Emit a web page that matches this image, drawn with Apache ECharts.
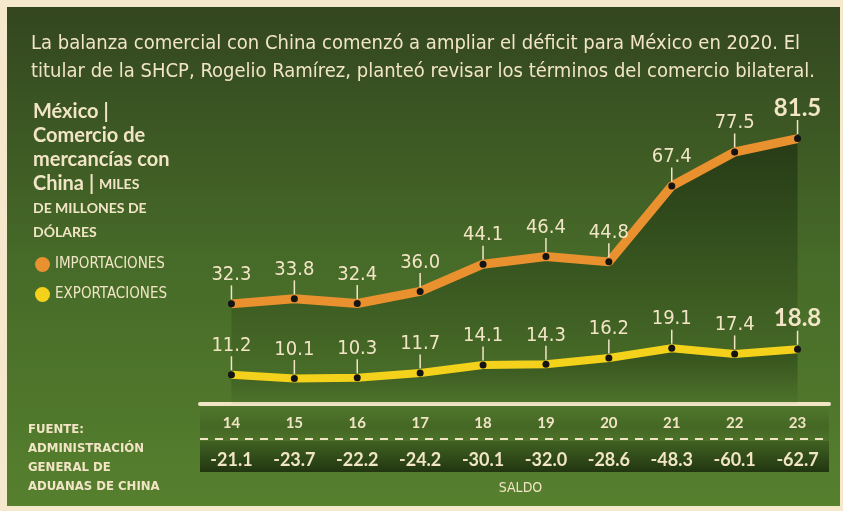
<!DOCTYPE html>
<html>
<head>
<meta charset="utf-8">
<script src="https://cdn.jsdelivr.net/npm/echarts@6/dist/echarts.min.js"></script>
<style>
  html, body { margin: 0; padding: 0; background: #f6e8cd; }
  #chart { width: 843px; height: 511px; }
</style>
</head>
<body>
<div id="chart"></div>
<script>
// datos: miles de millones de dólares
var years = ['14', '15', '16', '17', '18', '19', '20', '21', '22', '23'];
var importaciones = [32.3, 33.8, 32.4, 36.0, 44.1, 46.4, 44.8, 67.4, 77.5, 81.5];
var exportaciones = [11.2, 10.1, 10.3, 11.7, 14.1, 14.3, 16.2, 19.1, 17.4, 18.8];
var saldo = [-21.1, -23.7, -22.2, -24.2, -30.1, -32.0, -28.6, -48.3, -60.1, -62.7];

var CREAM = '#f2e5c6';
var ORANGE = '#e8912e';
var YELLOW = '#f4d21c';
var NARROW = '"DejaVu Sans Condensed", "Liberation Sans Narrow", sans-serif';
var BOLD = 'Lato, "Open Sans", sans-serif';

var chart = echarts.init(document.getElementById('chart'));

// etiqueta con palito vertical hasta el punto
function labelFmt(p) {
    var big = p.dataIndex === years.length - 1;
    return (big ? '{b|' : '{a|') + p.value.toFixed(1) + '}\n{t| }';
}
var labelRich = {
    a: { fontFamily: NARROW, fontSize: 20, color: CREAM, lineHeight: 21 },
    b: { fontFamily: BOLD, fontWeight: 'bold', fontSize: 24, color: CREAM, lineHeight: 24 },
    t: { width: 1.5, height: 14, lineHeight: 14, backgroundColor: CREAM }
};

var option = {
    backgroundColor: '#f6e8cd',
    animation: false,
    title: [{
        text: 'La balanza comercial con China comenzó a ampliar el déficit para México en 2020. El\ntitular de la SHCP, Rogelio Ramírez, planteó revisar los términos del comercio bilateral.',
        left: 26,
        top: 25,
        textStyle: { color: CREAM, fontFamily: NARROW, fontSize: 20, fontWeight: 'normal', lineHeight: 28 }
    }, {
        text: 'México |\nComercio de\nmercancías con\nChina | {s|MILES}\n{s|DE MILLONES DE}\n{s|DÓLARES}',
        left: 28,
        top: 95,
        textStyle: {
            color: CREAM, fontFamily: BOLD, fontSize: 20, fontWeight: 'bold', lineHeight: 24,
            rich: { s: { color: CREAM, fontFamily: BOLD, fontSize: 14, fontWeight: 'bold', lineHeight: 24 } }
        }
    }],
    legend: {
        orient: 'vertical',
        left: 30,
        top: 252,
        itemGap: 15,
        itemWidth: 15,
        itemHeight: 15,
        icon: 'circle',
        textStyle: { color: CREAM, fontFamily: NARROW, fontSize: 15 },
        data: [
            { name: 'IMPORTACIONES', itemStyle: { color: ORANGE } },
            { name: 'EXPORTACIONES', itemStyle: { color: YELLOW } }
        ]
    },
    grid: { left: 200, right: 14, top: 110, bottom: 107 },
    xAxis: [{
        type: 'category',
        data: years,
        boundaryGap: true,
        axisLine: { onZero: false, lineStyle: { color: CREAM, width: 4 } },
        axisTick: { show: false },
        axisLabel: { color: CREAM, fontFamily: BOLD, fontWeight: 'bold', fontSize: 15, margin: 12 }
    }, {
        type: 'category',
        position: 'bottom',
        offset: 35,
        data: saldo.map(function (v) { return v.toFixed(1); }),
        boundaryGap: true,
        axisLine: { show: false },
        axisTick: { show: false },
        axisLabel: { color: CREAM, fontFamily: BOLD, fontWeight: 'bold', fontSize: 18, margin: 12 },
        name: 'SALDO',
        nameLocation: 'middle',
        nameGap: 42,
        nameTextStyle: { color: CREAM, fontFamily: NARROW, fontSize: 14, padding: [0, 0, 0, 12] }
    }],
    yAxis: { type: 'value', min: 2.5, max: 90, show: false },
    graphic: [
        {   // panel verde
            type: 'rect', z: -20,
            shape: { x: 7, y: 7, width: 833, height: 499 },
            style: {
                fill: new echarts.graphic.LinearGradient(0, 0, 0, 1, [
                    { offset: 0, color: '#33461f' },
                    { offset: 0.5, color: '#466a28' },
                    { offset: 1, color: '#56802e' }
                ])
            }
        },
        {   // banda del saldo
            type: 'rect', z: -10,
            shape: { x: 200, y: 441, width: 629, height: 31 },
            style: {
                fill: new echarts.graphic.LinearGradient(0, 0, 0, 1, [
                    { offset: 0, color: 'rgba(30,50,14,0.35)' },
                    { offset: 1, color: 'rgba(28,45,12,0.9)' }
                ])
            }
        },
        {
            type: 'rect', z: -10,
            shape: { x: 200, y: 406, width: 629, height: 35 },
            style: {
                fill: new echarts.graphic.LinearGradient(0, 0, 0, 1, [
                    { offset: 0, color: 'rgba(30,50,14,0)' },
                    { offset: 0.6, color: 'rgba(30,50,14,0.25)' },
                    { offset: 1, color: 'rgba(30,50,14,0.1)' }
                ])
            }
        },
        {
            type: 'line', z: 5,
            shape: { x1: 200, y1: 439, x2: 829, y2: 439 },
            style: { stroke: CREAM, lineWidth: 2, lineDash: [8, 7] }
        },
        {
            type: 'text', left: 28, top: 420,
            style: {
                text: 'FUENTE:\nADMINISTRACIÓN\nGENERAL DE\nADUANAS DE CHINA',
                fill: CREAM, font: 'bold 13px ' + NARROW, lineHeight: 19
            }
        }
    ],
    series: [{
        name: 'IMPORTACIONES',
        type: 'line',
        data: importaciones,
        z: 3,
        symbol: 'circle',
        symbolSize: 7,
        itemStyle: { color: '#141414' },
        lineStyle: { color: ORANGE, width: 9 },
        areaStyle: {
            color: new echarts.graphic.LinearGradient(0, 138, 0, 404, [
                { offset: 0, color: 'rgba(22,36,12,0.8)' },
                { offset: 0.6, color: 'rgba(22,36,12,0.35)' },
                { offset: 1, color: 'rgba(22,36,12,0.05)' }
            ], true)
        },
        label: { show: true, position: 'top', distance: 1, formatter: labelFmt, rich: labelRich }
    }, {
        name: 'EXPORTACIONES',
        type: 'line',
        data: exportaciones,
        z: 4,
        symbol: 'circle',
        symbolSize: 7,
        itemStyle: { color: '#141414' },
        lineStyle: { color: YELLOW, width: 8 },
        areaStyle: {
            color: new echarts.graphic.LinearGradient(0, 340, 0, 404, [
                { offset: 0, color: 'rgba(22,36,12,0.55)' },
                { offset: 1, color: 'rgba(22,36,12,0)' }
            ], true)
        },
        label: { show: true, position: 'top', distance: 1, formatter: labelFmt, rich: labelRich }
    }]
};
chart.setOption(option);
</script>
</body>
</html>
